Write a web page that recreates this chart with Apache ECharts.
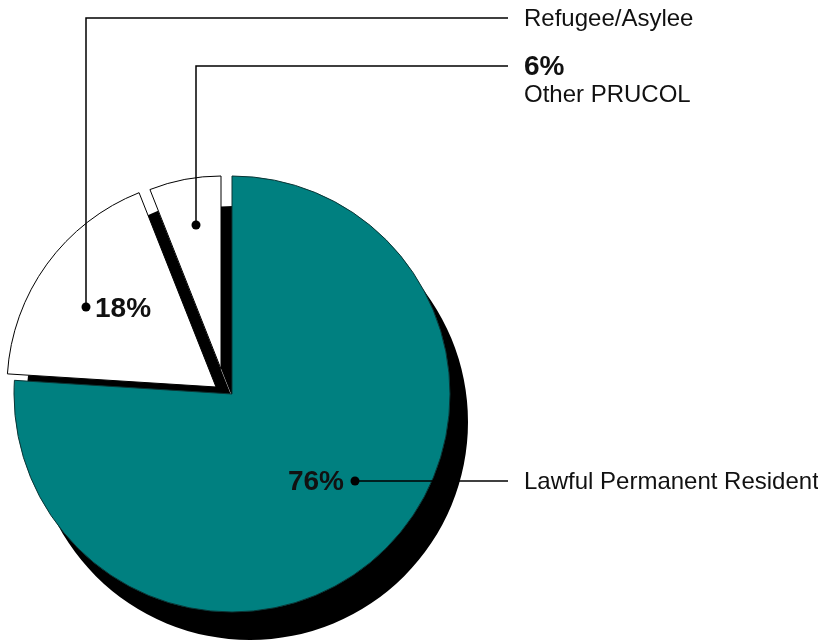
<!DOCTYPE html>
<html>
<head>
<meta charset="utf-8">
<script src="https://cdn.jsdelivr.net/npm/echarts@6/dist/echarts.min.js"></script>
<style>
html,body{margin:0;padding:0;background:#fff;}
#chart{width:818px;height:642px;}
</style>
</head>
<body>
<div id="chart"></div>
<script>
// ---- data ----
var categories = ['Lawful Permanent Resident', 'Refugee/Asylee', 'Other PRUCOL'];
var values = [76, 18, 6];
var colors = ['#008080', '#ffffff', '#ffffff'];

// ---- layout (per slice: pie centre, radius, shadow offset) ----
var sliceGeom = [
  { center: [232, 394], radius: 218, shadow: [18, 28], border: '#0b3535' },
  { center: [216, 387], radius: 209, shadow: [19, 18], border: '#000' },
  { center: [221, 369], radius: 193, shadow: [12, 30], border: '#000' }
];
var drawOrder = [1, 2, 0];

function makeSeries(idx, z, outline) {
  var g = sliceGeom[idx];
  var data = values.map(function (v, i) {
    if (i === idx) {
      var st = outline ? {
        color: 'rgba(0,0,0,0)', borderColor: g.border, borderWidth: 1,
        shadowColor: 'rgba(0,0,0,0)', shadowBlur: 0
      } : {
        color: colors[i], borderWidth: 0,
        shadowColor: '#000', shadowBlur: 0,
        shadowOffsetX: g.shadow[0], shadowOffsetY: g.shadow[1]
      };
      return { name: categories[i], value: v, itemStyle: st };
    }
    return {
      name: categories[i], value: v,
      itemStyle: { color: 'rgba(0,0,0,0)', borderWidth: 0, shadowColor: 'rgba(0,0,0,0)', shadowBlur: 0 }
    };
  });
  return {
    type: 'pie', z: z, silent: true, animation: false,
    center: g.center, radius: g.radius,
    startAngle: 90, clockwise: true,
    label: { show: false }, labelLine: { show: false },
    emphasis: { disabled: true },
    data: data
  };
}

var series = [];
drawOrder.forEach(function (idx, k) {
  series.push(makeSeries(idx, 2 + 2 * k, false));
  series.push(makeSeries(idx, 3 + 2 * k, true));
});

var reg = 'Liberation Sans, Arial, sans-serif';
var lineStyle = { stroke: '#000', lineWidth: 1.5, fill: null };
function dot(x, y) { return { type: 'circle', z: 100, shape: { cx: x, cy: y, r: 4.5 }, style: { fill: '#000' } }; }
function txt(x, y, s, size, weight, align) {
  return { type: 'text', z: 100, x: x, y: y,
    style: { text: s, font: (weight || 'normal') + ' ' + size + 'px ' + reg, fill: '#111',
      textAlign: align || 'left', textVerticalAlign: 'middle' } };
}

var graphics = [
  // Refugee/Asylee
  { type: 'polyline', z: 100, shape: { points: [[86, 307], [86, 18], [508, 18]] }, style: lineStyle },
  dot(86, 307),
  txt(524, 19, categories[1], 24),
  txt(95, 309, values[1] + '%', 28, 'bold'),
  // Other PRUCOL
  { type: 'polyline', z: 100, shape: { points: [[196, 225], [196, 66], [508, 66]] }, style: lineStyle },
  dot(196, 225),
  txt(524, 67, values[2] + '%', 28, 'bold'),
  txt(524, 95, categories[2], 24),
  // Lawful Permanent Resident
  { type: 'polyline', z: 100, shape: { points: [[355, 481], [508, 481]] }, style: lineStyle },
  dot(355, 481),
  txt(344, 482, values[0] + '%', 28, 'bold', 'right'),
  txt(524, 482, categories[0], 24)
];

var chart = echarts.init(document.getElementById('chart'), null, { renderer: 'canvas' });
chart.setOption({
  animation: false,
  backgroundColor: '#fff',
  series: series,
  graphic: graphics
});
</script>
</body>
</html>
